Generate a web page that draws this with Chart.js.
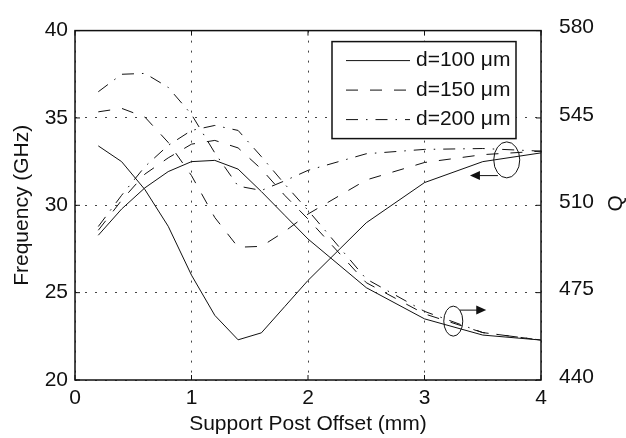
<!DOCTYPE html>
<html>
<head>
<meta charset="utf-8">
<script src="https://cdn.jsdelivr.net/npm/chart.js@4.4.1/dist/chart.umd.min.js"></script>
<style>
    html, body { margin: 0; padding: 0; background: #fff; }
</style>
</head>
<body>
<canvas id="chart" width="626" height="438"></canvas>
<script>
// support post offset (mm)
const offsets = [0.2, 0.4, 0.6, 0.8, 1.0, 1.2, 1.4, 1.6, 1.8, 2.0, 2.5, 3.0, 3.5, 4.0];

// resonant frequency (GHz), left axis
const freq100 = [33.4, 32.5, 30.9, 28.8, 26.0, 23.7, 22.3, 22.7, 24.2, 25.7, 29.0, 31.3, 32.5, 33.0];
const freq150 = [35.35, 35.55, 35.05, 33.6, 31.7, 29.3, 27.6, 27.65, 28.5, 29.5, 31.45, 32.45, 32.9, 33.1];
const freq200 = [36.5, 37.5, 37.55, 36.75, 35.2, 33.0, 31.1, 30.85, 31.4, 32.0, 32.95, 33.2, 33.25, 33.1];

// quality factor, right axis
const q100 = [498, 508.5, 517, 523.5, 527.5, 528, 524.5, 515.5, 506, 496.5, 477, 464.5, 458, 456];
const q150 = [500, 512, 522.5, 529, 534.5, 536, 533, 524.5, 514, 504.5, 479, 466.5, 459, 456];
const q200 = [501.5, 514, 525.5, 534, 540, 542, 540, 529.5, 518.5, 508, 480.5, 467.5, 459, 456];

const seriesLabels = ['d=100 μm', 'd=150 μm', 'd=200 μm'];
const xTicks = [0, 1, 2, 3, 4];
const freqTicks = [20, 25, 30, 35, 40];
const qTicks = [440, 475, 510, 545, 580];

const INK = '#111';
const FONT = "21px 'Liberation Sans', Arial, sans-serif";
const dashes = [[], [12, 12], [12, 8, 1.5, 8]];

// ellipse + arrow marks that point each family to its axis (data units)
const callouts = [
    { x: 3.706, y: 32.6, rx: 13, ry: 18, fromX: 3.63, toX: 3.39, arrowY: 31.7 },
    { x: 3.247, y: 23.37, rx: 9.5, ry: 15, fromX: 3.30, toX: 3.53, arrowY: 24.0 }
];

const pts = vals => vals.map((v, i) => ({ x: offsets[i], y: v }));

function makeSet(label, data, axis, idx) {
    return {
        label,
        data: pts(data),
        yAxisID: axis,
        borderColor: INK,
        borderWidth: 1,
        borderDash: dashes[idx],
        pointRadius: 0,
        tension: 0,
        fill: false
    };
}

const datasets = [
    makeSet(seriesLabels[0], freq100, 'y', 0),
    makeSet(seriesLabels[1], freq150, 'y', 1),
    makeSet(seriesLabels[2], freq200, 'y', 2),
    makeSet(seriesLabels[0], q100, 'y1', 0),
    makeSet(seriesLabels[1], q150, 'y1', 1),
    makeSet(seriesLabels[2], q200, 'y1', 2)
];

const setTicks = list => scale => { scale.ticks = list.map(v => ({ value: v })); };

// box round the plot, with inward ticks like the original
const framePlugin = {
    id: 'frame',
    afterDatasetsDraw(chart) {
        const { ctx, chartArea: a, scales } = chart;
        ctx.save();
        ctx.strokeStyle = INK;
        ctx.lineWidth = 1;
        ctx.beginPath();
        xTicks.forEach(v => {
            const px = scales.x.getPixelForValue(v);
            ctx.moveTo(px, a.bottom); ctx.lineTo(px, a.bottom - 5);
            ctx.moveTo(px, a.top); ctx.lineTo(px, a.top + 5);
        });
        freqTicks.forEach(v => {
            const py = scales.y.getPixelForValue(v);
            ctx.moveTo(a.left, py); ctx.lineTo(a.left + 5, py);
        });
        qTicks.forEach(v => {
            const py = scales.y1.getPixelForValue(v);
            ctx.moveTo(a.right, py); ctx.lineTo(a.right - 5, py);
        });
        ctx.stroke();
        ctx.lineWidth = 1.5;
        ctx.strokeRect(a.left, a.top, a.right - a.left, a.bottom - a.top);

        // right axis title, read bottom-up like the left one
        ctx.fillStyle = INK;
        ctx.font = FONT;
        ctx.textAlign = 'center';
        ctx.textBaseline = 'middle';
        ctx.translate(scales.y1.right - 10, (a.top + a.bottom) / 2 - 2);
        ctx.rotate(-Math.PI / 2);
        ctx.fillText('Q', 0, 0);
        ctx.restore();
    }
};

const calloutPlugin = {
    id: 'callouts',
    afterDatasetsDraw(chart) {
        const { ctx, scales } = chart;
        ctx.save();
        ctx.strokeStyle = INK;
        ctx.fillStyle = INK;
        ctx.lineWidth = 1;
        callouts.forEach(c => {
            const cx = scales.x.getPixelForValue(c.x);
            const cy = scales.y.getPixelForValue(c.y);
            ctx.beginPath();
            ctx.ellipse(cx, cy, c.rx, c.ry, 0, 0, Math.PI * 2);
            ctx.stroke();

            const x1 = scales.x.getPixelForValue(c.fromX);
            const x2 = scales.x.getPixelForValue(c.toX);
            const ay = scales.y.getPixelForValue(c.arrowY);
            const dir = Math.sign(x2 - x1);
            ctx.beginPath();
            ctx.moveTo(x1, ay);
            ctx.lineTo(x2 - dir * 9, ay);
            ctx.stroke();
            ctx.beginPath();
            ctx.moveTo(x2, ay);
            ctx.lineTo(x2 - dir * 10, ay - 4.5);
            ctx.lineTo(x2 - dir * 10, ay + 4.5);
            ctx.closePath();
            ctx.fill();
        });
        ctx.restore();
    }
};

const legendPlugin = {
    id: 'boxLegend',
    afterDatasetsDraw(chart) {
        const { ctx, chartArea: a } = chart;
        const left = a.right - 209, top = a.top + 11, w = 184, h = 97;
        ctx.save();
        ctx.fillStyle = '#fff';
        ctx.fillRect(left, top, w, h);
        ctx.strokeStyle = INK;
        ctx.lineWidth = 1.5;
        ctx.strokeRect(left, top, w, h);
        ctx.font = FONT;
        ctx.textBaseline = 'middle';
        ctx.textAlign = 'left';
        seriesLabels.forEach((label, i) => {
            const ds = chart.data.datasets[i];
            const ry = top + 19 + i * 29.5;
            ctx.lineWidth = 1;
            ctx.setLineDash(ds.borderDash);
            ctx.beginPath();
            ctx.moveTo(left + 14, ry);
            ctx.lineTo(left + 78, ry);
            ctx.stroke();
            ctx.setLineDash([]);
            ctx.fillStyle = INK;
            ctx.fillText(label, left + 84, ry);
        });
        ctx.restore();
    }
};

Chart.defaults.font.family = "'Liberation Sans', Arial, sans-serif";
Chart.defaults.font.size = 21;
Chart.defaults.color = INK;

const gridOpts = { color: '#444', lineWidth: 1, drawTicks: false };

new Chart(document.getElementById('chart'), {
    type: 'line',
    data: { datasets },
    options: {
        responsive: false,
        animation: false,
        devicePixelRatio: 1,
        layout: { padding: { top: 20, left: 0, right: 0, bottom: 0 } },
        plugins: {
            legend: { display: false },
            tooltip: { enabled: false }
        },
        scales: {
            x: {
                type: 'linear',
                min: 0,
                max: 4,
                afterBuildTicks: setTicks(xTicks),
                afterFit: s => { s.height = 58; },
                grid: gridOpts,
                border: { display: false, dash: [2, 8] },
                ticks: { padding: 6 },
                title: { display: true, text: 'Support Post Offset (mm)', padding: { top: 0, bottom: 1 } }
            },
            y: {
                position: 'left',
                min: 20,
                max: 40,
                afterBuildTicks: setTicks(freqTicks),
                afterFit: s => { s.width = 75; },
                grid: gridOpts,
                border: { display: false, dash: [2, 8] },
                ticks: { padding: 7 },
                title: { display: true, text: 'Frequency (GHz)', padding: { top: 10, bottom: 0 } }
            },
            y1: {
                position: 'right',
                min: 440,
                max: 580,
                afterBuildTicks: setTicks(qTicks),
                afterFit: s => { s.width = 85; },
                grid: { drawOnChartArea: false, drawTicks: false },
                border: { display: false },
                ticks: { padding: 18, labelOffset: -3 }
            }
        }
    },
    plugins: [framePlugin, calloutPlugin, legendPlugin]
});
</script>
</body>
</html>
